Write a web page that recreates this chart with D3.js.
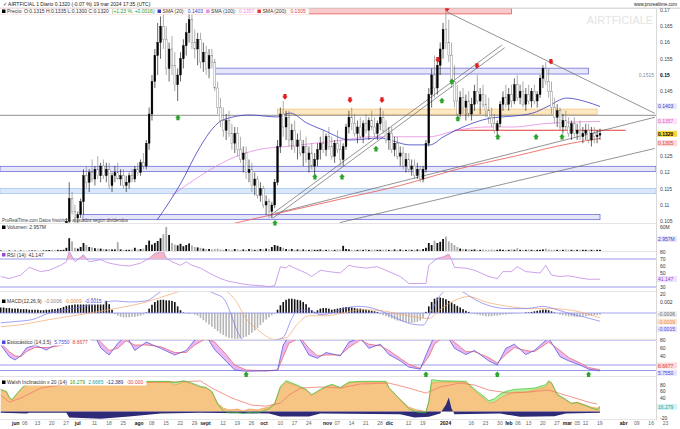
<!DOCTYPE html>
<html><head><meta charset="utf-8">
<script src="https://cdn.jsdelivr.net/npm/d3@7/dist/d3.min.js"></script>
<style>
html,body{margin:0;padding:0;background:#fff;}
svg{display:block;font-family:"Liberation Sans",Arial,sans-serif;}
</style></head><body>
<svg id="chart" width="680" height="429"></svg>
<script>
// ================= DATA =================
const firstDate = "2023-05-25", lastDate = "2024-04-30";
const holidays = ["2023-12-25","2023-12-26","2024-01-01","2024-03-29","2024-04-01"];

const open = [.100,.101,.100,.099,.100,.099,.100,.099,.101,.100,.098,.099,.100,.101,.100,.099,.100,.101,.102,.101,
.100,.101,.102,.103,.105,.112,.108,.106,.107,.111,.119,.117,.120,.118,.121,.119,.122,.119,.121,.116,
.119,.120,.118,.119,.116,.117,.119,.118,.121,.120,.123,.122,.129,.138,.148,.156,.160,.165,.161,.152,
.158,.153,.147,.150,.155,.159,.163,.167,.160,.158,.161,.154,.157,.152,.156,.154,.146,.140,.136,.133,
.136,.132,.129,.132,.127,.124,.126,.120,.121,.116,.118,.113,.115,.110,.111,.108,.110,.117,.128,.138,
.134,.137,.130,.133,.128,.130,.126,.128,.124,.126,.122,.124,.127,.129,.127,.131,.128,.125,.129,.127,
.124,.128,.134,.137,.135,.132,.134,.131,.135,.133,.136,.134,.132,.135,.137,.133,.130,.132,.127,.129,
.125,.126,.122,.124,.121,.122,.119,.121,.118,.121,.129,.144,.150,.146,.153,.158,.164,.160,.156,.148,
.142,.138,.143,.140,.142,.138,.141,.145,.142,.144,.141,.139,.137,.135,.133,.135,.141,.143,.141,.144,
.142,.147,.143,.145,.141,.144,.142,.145,.142,.144,.149,.152,.148,.145,.140,.137,.139,.134,.136,.134,
.132,.135,.132,.133,.131,.132,.133,.130,.132,.131,.1315];
const high = [.102,.102,.101,.101,.101,.101,.101,.102,.102,.101,.100,.101,.102,.102,.101,.101,.102,.103,.103,.102,
.102,.103,.104,.106,.117,.114,.110,.108,.112,.121,.122,.121,.124,.122,.125,.123,.124,.123,.123,.120,
.122,.123,.121,.121,.119,.120,.121,.122,.123,.124,.126,.130,.140,.150,.158,.166,.168,.170,.165,.160,
.162,.157,.152,.157,.161,.166,.170,.169,.164,.163,.163,.160,.159,.158,.158,.155,.148,.143,.140,.138,
.139,.135,.134,.134,.131,.128,.128,.124,.123,.120,.119,.117,.116,.113,.112,.111,.118,.130,.140,.142,
.139,.139,.135,.136,.132,.133,.130,.131,.128,.129,.126,.129,.131,.133,.132,.134,.131,.130,.133,.130,
.129,.135,.139,.140,.138,.136,.137,.136,.138,.137,.139,.137,.136,.140,.139,.136,.134,.134,.131,.131,
.128,.128,.126,.126,.124,.124,.123,.122,.122,.130,.146,.152,.156,.155,.160,.166,.170,.167,.160,.153,
.147,.145,.146,.144,.145,.143,.147,.150,.146,.147,.144,.143,.140,.138,.136,.142,.145,.147,.146,.147,
.149,.150,.147,.148,.146,.147,.146,.147,.145,.150,.153,.154,.152,.148,.143,.141,.140,.138,.139,.137,
.136,.137,.135,.136,.134,.135,.135,.134,.134,.133,.1335];
const low = [.099,.099,.098,.098,.098,.098,.098,.098,.099,.097,.097,.098,.099,.099,.098,.098,.099,.100,.100,.099,
.099,.100,.101,.101,.104,.107,.105,.104,.106,.107,.115,.114,.117,.116,.118,.117,.118,.117,.115,.114,
.117,.118,.116,.115,.114,.115,.117,.117,.119,.119,.121,.121,.127,.136,.146,.150,.155,.158,.150,.148,
.150,.145,.142,.148,.152,.156,.160,.158,.155,.153,.152,.151,.150,.149,.152,.145,.138,.134,.131,.130,
.131,.127,.126,.125,.123,.120,.118,.117,.114,.113,.112,.111,.109,.107,.106,.106,.109,.116,.126,.131,
.130,.128,.127,.126,.124,.125,.122,.123,.120,.121,.119,.122,.124,.126,.125,.127,.124,.123,.126,.122,
.122,.127,.132,.133,.131,.129,.130,.129,.132,.130,.133,.131,.130,.133,.132,.129,.127,.126,.125,.124,
.122,.121,.120,.120,.119,.118,.118,.117,.117,.120,.128,.140,.143,.144,.150,.155,.158,.154,.146,.140,
.136,.137,.138,.136,.137,.136,.139,.141,.138,.140,.137,.135,.134,.132,.131,.134,.139,.140,.139,.140,
.141,.142,.141,.140,.139,.141,.140,.141,.140,.143,.146,.147,.143,.138,.135,.134,.133,.132,.133,.131,
.130,.131,.130,.130,.129,.130,.129,.128,.129,.129,.130];
const close = [.101,.100,.099,.100,.099,.100,.099,.101,.100,.098,.099,.100,.101,.100,.099,.100,.101,.102,.101,.100,
.101,.102,.103,.105,.112,.108,.106,.107,.111,.119,.117,.120,.118,.121,.119,.122,.119,.121,.116,.119,
.120,.118,.119,.116,.117,.119,.118,.121,.120,.123,.122,.129,.138,.148,.156,.160,.165,.161,.152,.158,
.153,.147,.150,.155,.159,.163,.167,.160,.158,.161,.154,.157,.152,.156,.154,.146,.140,.136,.133,.136,
.132,.129,.132,.127,.124,.126,.120,.121,.116,.118,.113,.115,.110,.111,.108,.110,.117,.128,.138,.134,
.137,.130,.133,.128,.130,.126,.128,.124,.126,.122,.124,.127,.129,.127,.131,.128,.125,.129,.127,.124,
.128,.134,.137,.135,.132,.134,.131,.135,.133,.136,.134,.132,.135,.137,.133,.130,.132,.127,.129,.125,
.126,.122,.124,.121,.122,.119,.121,.118,.121,.129,.144,.150,.146,.153,.158,.164,.160,.156,.148,.142,
.138,.143,.140,.142,.138,.141,.145,.142,.144,.141,.139,.137,.135,.133,.135,.141,.143,.141,.144,.142,
.147,.143,.145,.141,.144,.142,.145,.142,.144,.149,.152,.148,.145,.140,.137,.139,.134,.136,.134,.132,
.135,.132,.133,.131,.132,.133,.130,.132,.131,.1315,.1320];
// volume, millions of shares
const volume = [1.5,1.2,1,1.5,1,1.2,1,1.5,1.2,1,1,1.5,1.2,1,1.2,1.5,2,2.5,3,2,
3,2.5,3,8,32,24,8,6,10,20,15,10,9,7,6,6,5,4,5,4,
4,22,4,3,3,3,4,8,4,5,6,15,26,16,20,25,32,42,60,40,
20,16,14,18,12,15,19,14,10,9,8,6,5,5,4,5,6,4,3,5,
4,3,5,4,3,4,3,5,4,3,4,5,4,6,5,10,15,13,10,8,
5,4,5,3,4,3,4,3,3,4,3,3,4,3,3,4,3,3,4,4,
13,5,4,3,3,3,4,3,5,3,3,4,3,3,3,4,3,3,4,3,
4,3,3,4,3,3,4,3,5,8,20,15,26,20,23,30,36,24,20,15,
10,6,5,4,4,3,4,3,3,4,3,3,4,3,3,4,3,3,3,4,
3,7,3,3,3,4,3,3,3,3,4,6,4,3,3,3,3,3,4,3,
3,3,3,3,3,3,3,3,3,3,3];
// moving averages (bar index, price)
const sma20Idx = [54.8,62.8,69.8,74.4,77.9,87.3,96.8,101.4,107.3,112.9,122.4,132.9,143.4,150.4,155,169,186.5,191.4,198.4,205.4,210];
const sma20Val = [.1054,.1162,.1278,.1337,.1362,.1377,.1371,.1383,.1352,.1331,.1300,.1306,.1285,.1285,.1309,.1362,.1383,.1402,.1429,.1417,.1403];
const sma100Idx = [60,70,80,90,100,110,120,130,140,150,160,170,180,190,200,210];
const sma100Val = [.113,.119,.124,.127,.128,.129,.130,.131,.131,.131,.133,.134,.134,.135,.1355,.1357];
const sma200Idx = [80,100,120,140,160,180,200,210];
const sma200Val = [.104,.108,.112,.116,.121,.125,.129,.1305];
// zones: [startIdx, endIdx, priceTop, priceBottom, kind]
const zones = [[-1,179,.1706,.1688,"red"],[75,206,.1521,.1503,"blue"],[97,209,.1395,.1379,"orange"],
[-1,230,.1219,.1203,"blue"],[-1,230,.1151,.1135,"light"],[28.8,210,.1071,.1055,"blue"]];
// trend lines: [idx1, price1, idx2, price2]
const trendLines = [[156.4,.1694,229.2,.1382],[94.3,.1067,175.6,.1592],[95.3,.1059,176.6,.1584],[96.1,.1074,229.2,.1370],[118.9,.1046,229.2,.1274]];
const hLevel = .1376;
const redLevel = [159,219,.1330];
// signals
const sellIdx = [99.6,122.4,133.6,153.2,156.4,166.9,192.8];
const sellPx  = [.1432,.1422,.1422,.1546,.1703,.1527,.1540];
const buyIdx  = [62.1,96.1,110.1,119.6,131.5,154.6,158.1,160.2,174.2,187.6,196.7];
const buyPx   = [.1370,.1046,.1188,.1188,.1274,.1422,.1481,.1367,.1311,.1311,.1311];
const stoBuyIdx = [86,149,174,206];
// RSI
const rsiIdx = [0,3,7,10,14,17,21,23,24,26,29,31,35,38,42,45,49,52,54,56,57,58,60,63,65,67,70,73,77,80,84,87,91,94,96,98,100,101,103,107,109,112,115,119,122,124,128,132,136,140,143,147,149,150,153,155,157,158,159,163,166,171,174,176,179,181,184,189,191,193,196,199,203,206,210];
const rsiVal = [45,42,47,58,52,54,61,66,81,66,76,66,69,64,61,60,64,71,78,80,81,71,66,61,66,61,57,50,42,38,35,33,32,30.5,32,59,57,61,57,50,45,54,52,50,61,59,57,59,52,45,35,35,35,61,71,73,77,69,58,57,54,45,42,52,52,59,52,50,61,47,45,46,43,41,41.147];
// MACD (thousandths)
const macdHist = [1.0,1.0,0.9,0.9,0.8,0.8,0.8,0.7,0.7,0.7,0.6,
0.6,0.6,0.6,0.5,0.5,0.6,0.6,0.7,0.7,0.8,
0.9,1.1,1.3,1.4,1.5,1.7,1.9,2.1,
2.3,2.5,2.6,2.7,2.7,2.6,2.5,2.4,2.2,1.6,
0.6,-0.2,-0.5,-0.7,-0.8,-0.8,-0.8,-0.7,-0.7,-0.6,-0.5,-0.3,0.1,
0.8,1.5,2.0,2.3,2.4,2.4,2.3,2.3,2.2,2.0,
1.2,0.5,0.1,-0.1,-0.2,-0.1,-0.3,
-0.5,-0.9,-1.3,-1.7,-2.1,-2.5,-2.9,-3.3,-3.7,-4.0,-4.3,-4.5,-4.6,-4.7,-4.7,-4.6,-4.5,-4.3,
-4.0,-3.6,-3.2,-2.7,-2.2,-1.7,-1.2,-0.8,-0.4,-0.1,
0.6,1.4,2.0,2.4,2.6,2.6,2.5,2.4,2.3,2.0,
1.6,1.0,0.5,0.2,
0.5,0.8,0.9,0.9,0.8,0.6,0.7,0.8,
0.9,1.0,1.1,1.1,1.0,0.9,0.8,0.8,0.7,0.6,0.5,0.4,0.3,0.2,
-0.2,-0.4,-0.6,-0.8,-1.0,-1.2,-1.4,-1.5,-1.6,-1.7,-1.8,-1.8,-1.7,-1.6,-1.4,-1.0,
0.2,1.2,2.0,2.6,2.8,2.8,2.7,2.5,2.2,1.9,1.6,1.3,1.0,0.7,0.4,0.2,
-0.1,-0.2,-0.3,-0.4,-0.5,-0.6,-0.6,-0.6,-0.5,-0.5,-0.4,-0.3,-0.3,-0.2,-0.2,-0.1,-0.1,0.0,0.0,0.1,0.1,0.2,0.3,0.4,
0.5,0.6,0.6,0.5,0.3,0.1,-0.1,
-0.3,-0.4,-0.5,-0.6,-0.6,-0.7,-0.7,-0.7,-0.6,-0.6,-0.5,-0.5,-0.4,-0.4,-0.3];
const macdIdx = [0,4,11,17,23,29,35,40,45,51,55,60,70,75,78,84,88,96,99,102,104,108,112,116,120,126,132,138,144,148,151,154,158,162,166,172,178,184,190,195,200,205,210];
const macdVal = [-1.8,-1.6,-1.2,0,0.6,1.2,1.8,2.2,2.0,2.2,3.5,5,4.5,3.5,2.7,-4.4,-6,-5,-4.4,-1,0.5,0.5,-0.3,0,0.8,1.2,0.6,-0.8,-2,-2.2,0.5,3.2,4.5,3.8,2.5,1.2,0.8,0.8,1.2,0.6,-0.2,-0.8,-1.5];
const sigIdx = [0,6,17,29,40,51,60,70,78,82,86,90,96,100,104,108,114,120,126,132,138,144,150,154,158,164,170,178,186,192,200,210];
const sigVal = [-2.5,-2.2,-1.2,-0.2,0.8,2.0,3.5,4.8,4.2,2.5,-1,-3,-4.8,-4.5,-2,-0.5,-0.5,0,0.6,0.5,0,-0.6,-1,0.6,2,3,2,1.2,0.8,0.8,0.5,-0.9];
// Stochastic
const stoIdx = [0,3,5,7,9,12,16,19,23,26,33,35,38,41,44,47,51,56,61,65,68,72,75,79,82,86,93,97,99,101,105,108,111,114,119,122,126,129,133,136,140,143,147,150,152,156,159,163,166,171,174,177,180,184,187,192,196,199,203,206,210];
const stoK = [68,40,32,42,61,68,56,68,75,88,90,61,44,72,90,55,75,60,44,55,80,90,56,29,8,5,6,8,68,90,80,44,36,50,42,75,85,60,70,45,30,15,10,60,90,95,60,45,55,30,20,60,70,45,55,85,40,30,20,10,5.755];
const stoD = [72,52,42,40,52,62,62,64,70,82,88,75,55,60,78,68,68,64,50,50,68,84,75,45,20,8,6,7,40,72,86,60,42,44,44,62,80,70,66,55,36,22,12,40,70,92,75,52,52,38,25,45,62,55,52,75,55,38,25,14,8.6677];
// bottom oscillator
const wIdx = [0,2,3,4,6,8,10,14,59,61,64,66,70,72,74,76,78,80,83,85,87,90,92,94,96,98,100,103,107,109,112,114,116,119,122,126,135,136,139,141,143,146,149,150,151,154,163,164,167,170,171,173,175,177,180,184,187,191,192,193,195,198,200,202,205,207,209,210];
const wOrange = [64,58,40,34,55,73,85,88,88,79,88,85,73,70,58,25,10,4.5,7.5,1.5,7.5,4.5,10,13,25,70,88,79,64,49,64,73,79,70,85,88,88,70,43,28,13,4.5,0,28,85,88,88,79,55,34,25,28,40,49,58,58,64,73,88,85,49,34,25,28,19,13,10,16.3];
const wGreen = [66,60,42,36,57,76,87,90,90,86,92,88,75,72,60,22,2,-4,-3,-6,-3,-4,2,8,22,75,92,82,66,50,66,75,81,72,88,90,90,72,45,26,8,-2,-4,30,95,92,90,82,60,40,32,38,52,60,66,68,70,80,92,86,52,36,24,26,17,10,5,12];
const redIdx = [0,3,7,14,21,35,59,70,74,81,88,93,98,101,105,112,119,126,136,143,149,154,161,166,171,178,185,192,199,206,209];
const redVal = [49,28,40,70,79,85,88,91,70,40,19,16,25,49,70,73,70,82,85,70,55,73,85,79,64,55,58,64,46,28,22];
const navyIdx = [0,9,10,23,24,35,45,56,70,94,98,108,112,140,145,150,154,156,157,158,159,175,182,194,198,210];
const navyVal = [-4,-6,-4,-4,-18,-22,-15,-6,-4,-6,-15,-15,-6,-8,-18,-16,-6,20,42,8,-8,-6,-16,-14,-6,-4];
// axis labels
const priceTicks = [.17,.165,.16,.155,.15,.145,.14,.135,.13,.125,.12,.115,.11,.105];
const volTicks = [20,40,60];
const rsiTicks = [80,70,60,50,40,30,20];
const macdTicks = [2,0,-2];
const stoTicks = [80,60,40,20];
const wTicks = [80,60,40,20,0,-20];
const xTicks = [["2023-06-01","jun"],["2023-06-06","06"],["2023-06-13","13"],["2023-06-20","20"],["2023-06-27","27"],
["2023-07-03","jul"],["2023-07-11","11"],["2023-07-18","18"],["2023-07-25","25"],["2023-08-01","ago"],["2023-08-08","08"],
["2023-08-15","15"],["2023-08-22","22"],["2023-08-29","29"],["2023-09-01","sept"],["2023-09-12","12"],["2023-09-19","19"],
["2023-09-26","26"],["2023-10-02","oct"],["2023-10-10","10"],["2023-10-17","17"],["2023-10-24","24"],["2023-11-01","nov"],
["2023-11-07","07"],["2023-11-14","14"],["2023-11-21","21"],["2023-11-28","28"],["2023-12-01","dic"],["2023-12-12","12"],
["2023-12-19","19"],["2024-01-02","2024"],["2024-01-16","16"],["2024-01-23","23"],["2024-01-30","30"],["2024-02-01","feb"],
["2024-02-06","06"],["2024-02-13","13"],["2024-02-20","20"],["2024-02-27","27"],["2024-03-01","mar"],["2024-03-05","05"],
["2024-03-12","12"],["2024-03-19","19"],["2024-04-02","abr"],["2024-04-09","09"],["2024-04-16","16"],["2024-04-23","23"]];
const monthLabels = ["jun","jul","ago","sept","oct","nov","dic","2024","feb","mar","abr"];

// ================= DRAW =================
const dates = [];
for (let d = new Date(firstDate + "T00:00:00Z"); d <= new Date(lastDate + "T00:00:00Z"); d = new Date(d.getTime() + 864e5)) {
  const s = d.toISOString().slice(0, 10), wd = d.getUTCDay();
  if (wd !== 0 && wd !== 6 && !holidays.includes(s)) dates.push(s);
}
const di = s => dates.indexOf(s);
const AX = 656;
const x = d3.scaleLinear().domain([di("2023-06-01"), di("2024-03-19")]).range([15, 600]);
const yP = d3.scaleLinear().domain([0.105, 0.17]).range([221.25, 10]);
const yV = d3.scaleLinear().domain([0, 60]).range([251, 227]);
const yR = d3.scaleLinear().domain([30, 70]).range([287, 259]);
const yM = d3.scaleLinear().domain([0, 2]).range([313, 302]);
const yS = d3.scaleLinear().domain([20, 80]).range([365, 340]);
const yW = d3.scaleLinear().domain([0, 80]).range([411.5, 384.7]);

const svg = d3.select("#chart");
const defs = svg.append("defs");
function clip(id, y0, y1) { defs.append("clipPath").attr("id", id).append("rect").attr("x", 0).attr("y", y0).attr("width", AX).attr("height", y1 - y0); }
clip("cMain", 8.5, 223); clip("cVol", 224, 251.5); clip("cRsi", 252, 291); clip("cMacd", 292, 339.5); clip("cSto", 340, 376); clip("cW", 377, 419.5);

const FS = 5;
function txt(g, xx, yy, s, o = {}) {
  return g.append("text").attr("x", xx).attr("y", yy).text(s).attr("font-size", o.fs || FS)
    .attr("fill", o.fill || "#333").attr("text-anchor", o.anchor || "start").attr("font-weight", o.bold ? "bold" : null);
}
const pts = (ix, v) => ix.map((d, k) => [d, v[k]]);

// ---- panel separators ----
[8.5, 223.5, 251.5, 291.5, 339.5, 376.5, 419.5].forEach(yy =>
  svg.append("line").attr("x1", 0).attr("x2", 680).attr("y1", yy).attr("y2", yy).attr("stroke", "#d4d4d4").attr("stroke-width", 0.6));

// ================= MAIN PANEL =================
const gM = svg.append("g").attr("clip-path", "url(#cMain)");
const zoneStyle = { red: ["#f9caca", "#ee5a5a"], blue: ["#e6e6fb", "#6f6fd6"], orange: ["#fde8c4", "#f2c77d"], light: ["#d9e8fb", "#a9c6ee"] };
zones.forEach(z => {
  const [a, b, pt, pb, k] = z;
  const x0 = a < 0 ? 0 : x(a), x1 = Math.min(AX, x(b));
  gM.append("rect").attr("x", x0).attr("y", yP(pt)).attr("width", x1 - x0).attr("height", yP(pb) - yP(pt))
    .attr("fill", zoneStyle[k][0]).attr("stroke", zoneStyle[k][1]).attr("stroke-width", 0.8);
});
gM.append("line").attr("x1", 0).attr("x2", AX).attr("y1", yP(hLevel)).attr("y2", yP(hLevel)).attr("stroke", "#444").attr("stroke-width", 0.6);
gM.append("line").attr("x1", x(redLevel[0])).attr("x2", x(redLevel[1])).attr("y1", yP(redLevel[2])).attr("y2", yP(redLevel[2])).attr("stroke", "#e23b3b").attr("stroke-width", 1);
trendLines.forEach(t => gM.append("line").attr("x1", x(t[0])).attr("y1", yP(t[1])).attr("x2", x(t[2])).attr("y2", yP(t[3]))
  .attr("stroke", "#666").attr("stroke-width", 0.7));

const lineP = d3.line().x(d => x(d[0])).y(d => yP(d[1])).curve(d3.curveMonotoneX);
gM.append("path").attr("d", lineP(pts(sma200Idx, sma200Val))).attr("fill", "none").attr("stroke", "#e8584e").attr("stroke-width", 0.8);
gM.append("path").attr("d", lineP(pts(sma100Idx, sma100Val))).attr("fill", "none").attr("stroke", "#e68ae0").attr("stroke-width", 0.8);
gM.append("path").attr("d", lineP(pts(sma20Idx, sma20Val))).attr("fill", "none").attr("stroke", "#3d3dc0").attr("stroke-width", 0.8);

const cd = close.map((c, i) => ({ i, o: open[i], h: high[i], l: low[i], c, up: c >= open[i] }));
gM.selectAll("line.wick").data(cd).join("line").attr("class", "wick")
  .attr("x1", d => x(d.i)).attr("x2", d => x(d.i)).attr("y1", d => yP(d.h)).attr("y2", d => yP(d.l))
  .attr("stroke", d => d.up ? "#000" : "#777").attr("stroke-width", 0.6);
gM.selectAll("rect.body").data(cd).join("rect").attr("class", "body")
  .attr("x", d => x(d.i) - 0.9).attr("width", 1.8)
  .attr("y", d => yP(Math.max(d.o, d.c))).attr("height", d => Math.max(0.6, Math.abs(yP(d.o) - yP(d.c))))
  .attr("fill", d => d.up ? "#000" : "#fff").attr("stroke", d => d.up ? "#000" : "#777").attr("stroke-width", 0.4);

const sellPath = "M-1.6,-3 L1.6,-3 L1.6,-0.5 L2.8,-0.5 L0,2.6 L-2.8,-0.5 L-1.6,-0.5 Z";
const buyPath = "M-1.6,3 L1.6,3 L1.6,0.5 L2.8,0.5 L0,-2.6 L-2.8,0.5 L-1.6,0.5 Z";
sellIdx.forEach((s, k) => svg.append("path").attr("d", sellPath).attr("transform", `translate(${x(s)},${yP(sellPx[k])})`).attr("fill", "#e02020"));
buyIdx.forEach((s, k) => svg.append("path").attr("d", buyPath).attr("transform", `translate(${x(s)},${yP(buyPx[k])})`).attr("fill", "#2aa52a"));

// watermark
txt(svg, 620, 24, "AIRTFICIALE", { fs: 11, fill: "#e4e4e4", anchor: "middle" });

// ================= VOLUME =================
const gV = svg.append("g").attr("clip-path", "url(#cVol)");
gV.selectAll("rect").data(volume.map((v, i) => ({ i, v, up: close[i] >= open[i] }))).join("rect")
  .attr("x", d => x(d.i) - 0.9).attr("width", 1.8).attr("y", d => yV(d.v)).attr("height", d => yV(0) - yV(d.v))
  .attr("fill", d => d.up ? "#111" : "#aaa");

// ================= RSI =================
const gR = svg.append("g").attr("clip-path", "url(#cRsi)");
[70, 30].forEach(v => gR.append("line").attr("x1", 0).attr("x2", AX).attr("y1", yR(v)).attr("y2", yR(v)).attr("stroke", "#8d8de8").attr("stroke-width", 0.9));
const rsiPts = pts(rsiIdx, rsiVal);
defs.append("clipPath").attr("id", "cOb").append("rect").attr("x", 0).attr("y", 250).attr("width", AX).attr("height", yR(70) - 250);
gR.append("path").attr("clip-path", "url(#cOb)").attr("d", d3.area().x(d => x(d[0])).y0(yR(70)).y1(d => yR(d[1]))(rsiPts)).attr("fill", "#f3b6c8");
gR.append("path").attr("d", d3.line().x(d => x(d[0])).y(d => yR(d[1]))(rsiPts)).attr("fill", "none").attr("stroke", "#c08ae6").attr("stroke-width", 0.8);

// ================= MACD =================
const gMa = svg.append("g").attr("clip-path", "url(#cMacd)");
gMa.selectAll("rect").data(macdHist.map((v, i) => ({ i, v }))).join("rect")
  .attr("x", d => x(d.i) - 0.8).attr("width", 1.6)
  .attr("y", d => Math.min(yM(0), yM(d.v))).attr("height", d => Math.abs(yM(d.v) - yM(0)))
  .attr("fill", d => d.v >= 0 ? "#111" : "#b5b5b5");
gMa.append("line").attr("x1", 0).attr("x2", AX).attr("y1", yM(0)).attr("y2", yM(0)).attr("stroke", "#8d8de8").attr("stroke-width", 0.8);
const lineM = d3.line().x(d => x(d[0])).y(d => yM(d[1])).curve(d3.curveMonotoneX);
gMa.append("path").attr("d", lineM(pts(sigIdx, sigVal))).attr("fill", "none").attr("stroke", "#f5a66a").attr("stroke-width", 0.7);
gMa.append("path").attr("d", lineM(pts(macdIdx, macdVal))).attr("fill", "none").attr("stroke", "#7a7aee").attr("stroke-width", 0.7);

// ================= STOCHASTIC =================
const gS = svg.append("g").attr("clip-path", "url(#cSto)");
[80, 20].forEach(v => gS.append("line").attr("x1", 0).attr("x2", AX).attr("y1", yS(v)).attr("y2", yS(v)).attr("stroke", "#8d8de8").attr("stroke-width", 0.9));
gS.append("line").attr("x1", 0).attr("x2", AX).attr("y1", 370.5).attr("y2", 370.5).attr("stroke", "#8d8de8").attr("stroke-width", 0.9);
const stoPts = stoIdx.map((d, k) => ({ i: d, k: stoK[k], d: stoD[k] }));
gS.append("path").attr("d", d3.area().x(d => x(d.i)).y0(d => yS(d.k)).y1(d => yS(d.d))(stoPts)).attr("fill", "#e3a6ee").attr("opacity", 0.8);
gS.append("path").attr("d", d3.line().x(d => x(d.i)).y(d => yS(d.d))(stoPts)).attr("fill", "none").attr("stroke", "#ee5a5a").attr("stroke-width", 0.7);
gS.append("path").attr("d", d3.line().x(d => x(d.i)).y(d => yS(d.k))(stoPts)).attr("fill", "none").attr("stroke", "#4a4ae0").attr("stroke-width", 0.7);
stoBuyIdx.forEach(s => svg.append("path").attr("d", buyPath).attr("transform", `translate(${x(s)},374)`).attr("fill", "#2aa52a"));

// ================= BOTTOM OSCILLATOR =================
const gW = svg.append("g").attr("clip-path", "url(#cW)");
const oPts = wIdx.map((d, k) => ({ i: d, o: wOrange[k], g: wGreen[k] }));
gW.append("path").attr("d", d3.area().x(d => x(d.i)).y0(yW(0)).y1(d => yW(d.o))(oPts)).attr("fill", "#f6c483");
gW.append("path").attr("d", d3.area().x(d => x(d.i)).y0(d => yW(d.o)).y1(d => yW(Math.max(d.o, d.g)))(oPts)).attr("fill", "#b8ef9a");
gW.append("path").attr("d", d3.area().x(d => x(d[0])).y0(yW(0)).y1(d => yW(d[1]))(pts(navyIdx, navyVal))).attr("fill", "#2e2a78");
gW.append("path").attr("d", d3.line().x(d => x(d[0])).y(d => yW(d[1]))(pts(redIdx, redVal))).attr("fill", "none").attr("stroke", "#f07c6c").attr("stroke-width", 0.8);
gW.append("path").attr("d", d3.line().x(d => x(d.i)).y(d => yW(d.o))(oPts)).attr("fill", "none").attr("stroke", "#e98a3a").attr("stroke-width", 0.6);
gW.append("path").attr("d", d3.line().x(d => x(d.i)).y(d => yW(d.g))(oPts)).attr("fill", "none").attr("stroke", "#3ac23a").attr("stroke-width", 0.7);

// ================= RIGHT AXIS =================
svg.append("rect").attr("x", AX).attr("y", 9).attr("width", 24).attr("height", 411).attr("fill", "#fff");
svg.append("line").attr("x1", AX + 0.5).attr("x2", AX + 0.5).attr("y1", 9).attr("y2", 420).attr("stroke", "#bdbdbd").attr("stroke-width", 0.6);
const gA = svg.append("g");
const boxes = [];
function box(yy, s, bg, fg, bold) { boxes.push([yy, s, bg, fg, bold]); }
box(yP(.1403), "0.1403", "#e8e8fb", "#3d3dc0");
box(yP(.1357), "0.1357", "#fbe3f6", "#e060c8");
box(yP(.1320) + 0.5, "0.1320", "#f9d93a", "#000", true);
box(yP(.1305) + 5, "0.1305", "#fbd9d9", "#e23b3b");
box(yV(29.57), "2.957M", "#e8e8fb", "#3d3dc0");
box(yR(41.147), "41.147", "#f1e2fb", "#9b45d0");
box(yM(-0.6) - 2, "-0.0006", "#eeeeee", "#666");
box(yM(-0.9) + 4, "-0.0009", "#fde6d6", "#e88a3a");
box(yM(-1.5) + 8, "-0.0015", "#e6e6fb", "#4a4ae0");
box(yS(8.6677) - 4, "8.6677", "#fbd9d9", "#e23b3b");
box(yS(5.755) + 2, "5.7550", "#e6e6fb", "#4a4ae0");
box(yW(10) - 1, "16.279", "#d4f3f3", "#2aa5a5");
const free = yy => boxes.every(b => Math.abs(b[0] - yy) > 5.5);
function tick(yy, s, o) { if (free(yy)) txt(gA, 660, yy + 1.8, s, o); }
priceTicks.forEach(v => tick(yP(v), String(v), { bold: v === .15, fill: v === .15 ? "#000" : "#444" }));
txt(gA, 654, yP(.15) + 1.8, "0.1515", { anchor: "end", fill: "#888" });
volTicks.forEach(v => tick(yV(v), v + "M"));
rsiTicks.forEach(v => tick(yR(v), String(v)));
macdTicks.forEach(v => tick(yM(v), v === 0 ? "0" : d3.format(".3f")(v / 1000)));
stoTicks.forEach(v => tick(yS(v), String(v)));
wTicks.forEach(v => tick(yW(v), String(v)));
boxes.forEach(([yy, s, bg, fg, bold]) => {
  gA.append("rect").attr("x", 657).attr("y", yy - 3.2).attr("width", 20).attr("height", 6).attr("fill", bg);
  txt(gA, 658, yy + 1.8, s, { fill: fg, bold });
});

// ================= X AXIS =================
let lastEnd = -10;
xTicks.forEach(([d, s]) => {
  const m = monthLabels.includes(s);
  let xx = Math.max(x(di(d)) - 3, lastEnd + 2.5);
  const t = txt(svg, xx, 425, s, { anchor: "start", bold: m, fill: m ? "#111" : "#666" });
  lastEnd = xx + t.node().getComputedTextLength();
});

// ================= HEADER & LEGENDS =================
svg.append("rect").attr("x", 0).attr("y", 0).attr("width", 680).attr("height", 8).attr("fill", "#fff");
svg.append("line").attr("x1", 0).attr("x2", 680).attr("y1", 8).attr("y2", 8).attr("stroke", "#c8c8c8").attr("stroke-width", 0.6);
txt(svg, 3, 6, "✓ AIRTFICIAL 1 Diario 0.1320 (-0.07 %) 19 mar 2024 17:35 (UTC)", { fs: 5, fill: "#222" });
txt(svg, 677, 6, "www.prorealtime.com", { fs: 4.5, fill: "#222", anchor: "end" });

function legend(yy, items) {
  let xx = 2;
  const g = svg.append("g");
  const bg = g.append("rect").attr("x", 0).attr("y", yy - 4.5).attr("height", 6).attr("fill", "#fff");
  items.forEach(it => {
    if (it.sq) { g.append("rect").attr("x", xx).attr("y", yy - 3.5).attr("width", 3.5).attr("height", 3.5).attr("fill", it.sq); xx += 5; }
    const t = txt(g, xx, yy, it.t, { fill: it.c || "#333" });
    xx += t.node().getComputedTextLength() + 3;
  });
  bg.attr("width", xx);
}
legend(13, [{ sq: "#000", t: "Precio: O:0.1315 H:0.1335 L:0.1300 C:0.1320" }, { t: "(+1.23 %, +0.0016)", c: "#2a9a2a" },
  { sq: "#3d3dc0", t: "SMA (20):" }, { t: "0.1403", c: "#3d3dc0" }, { sq: "#f08ae0", t: "SMA (100):" }, { t: "0.1357", c: "#f08ae0" },
  { sq: "#e23b3b", t: "SMA (200):" }, { t: "0.1305", c: "#e23b3b" }]);
txt(svg, 2, 221.5, "ProRealTime.com Datos históricos ajustados según dividendos", { fs: 4.5, fill: "#444" });
legend(229, [{ sq: "#000", t: "Volumen: 2.957M" }]);
legend(256.5, [{ sq: "#9b45d0", t: "RSI (14): 41.147" }]);
legend(303, [{ sq: "#000", t: "MACD(12,26,9)" }, { t: "-0.0006", c: "#888" }, { t: "-0.0009", c: "#e88a3a" }, { t: "-0.0015", c: "#4a4ae0" }]);
legend(344, [{ sq: "#4a4ae0", t: "Estocástico (14,3,5)" }, { t: "5.7550", c: "#4a4ae0" }, { t: "8.6677", c: "#e23b3b" }]);
legend(384, [{ sq: "#000", t: "Walsh Inclinación x 20 (14)" }, { t: "16.279", c: "#2aa52a" }, { t: "2.6685", c: "#2aa5a5" }, { t: "-12.389", c: "#2e2a78" }, { t: "-30.000", c: "#e23b3b" }]);
</script>
</body></html>
